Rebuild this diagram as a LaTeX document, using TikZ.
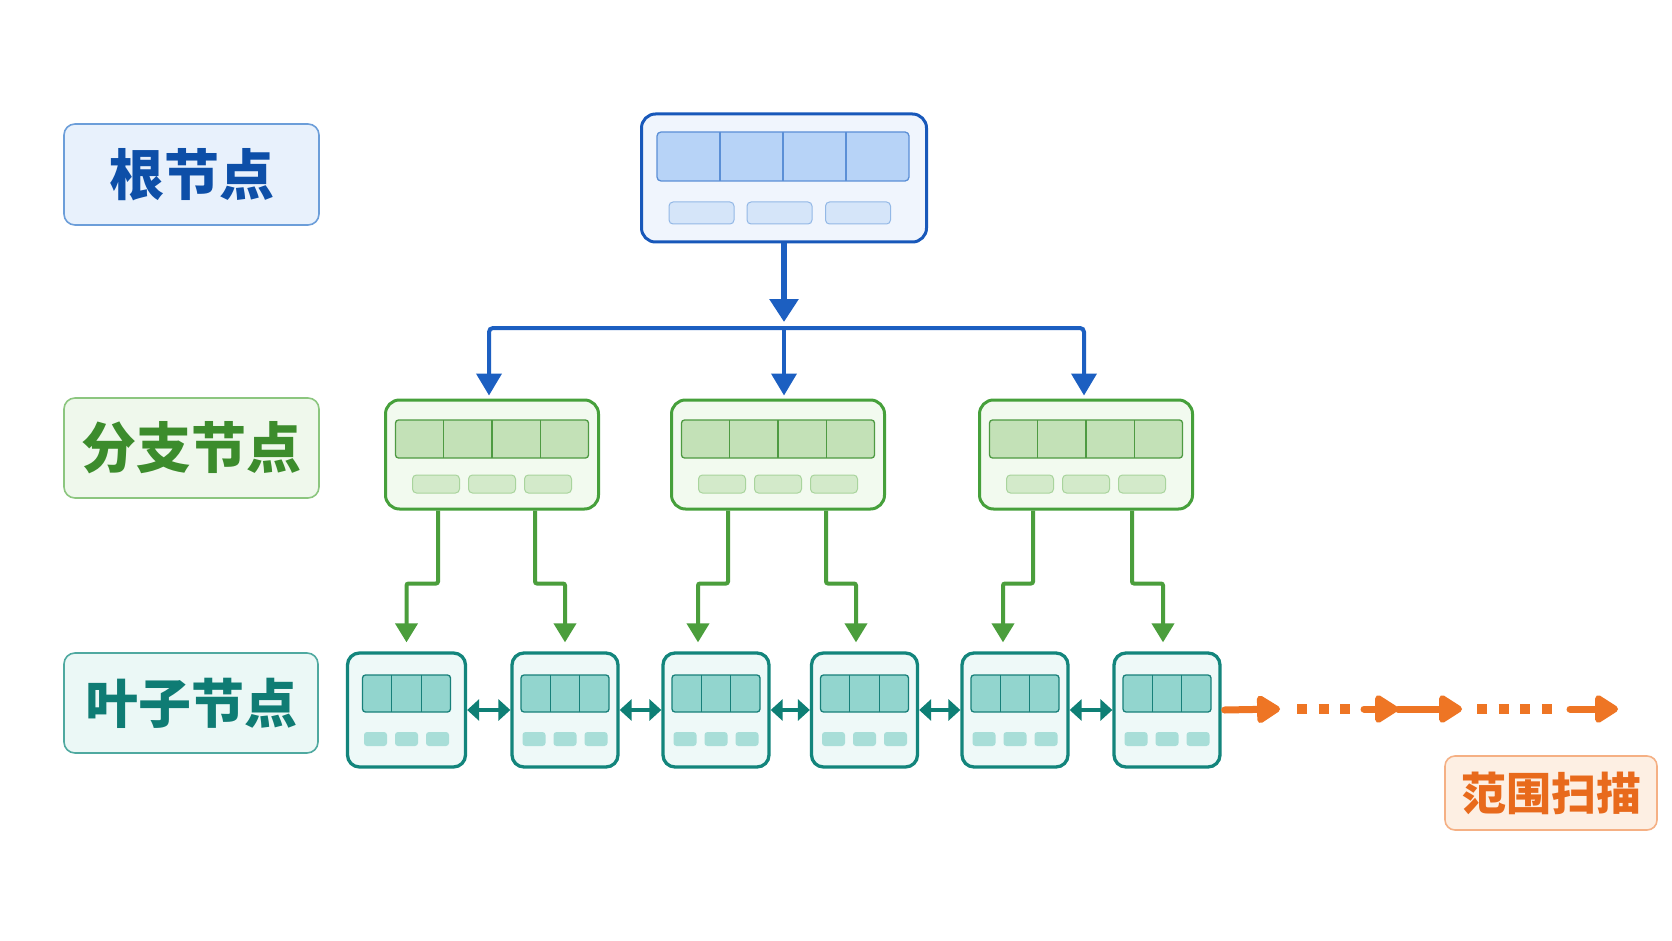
\documentclass[tikz,border=0pt]{standalone}
\usepackage{fontspec}
\newfontfamily\cjk{Noto Sans CJK SC}
\usetikzlibrary{arrows.meta,calc}
\definecolor{rootBorder}{HTML}{1858BA}
\definecolor{rootFill}{HTML}{F0F5FD}
\definecolor{rootBar}{HTML}{B7D3F7}
\definecolor{rootBarLine}{HTML}{5B8FD6}
\definecolor{rootSmall}{HTML}{D5E5F9}
\definecolor{rootSmallLine}{HTML}{93B8E6}
\definecolor{blueArrow}{HTML}{1C5FC1}
\definecolor{brBorder}{HTML}{46A03B}
\definecolor{brFill}{HTML}{F2FAEF}
\definecolor{brBar}{HTML}{C3E1B7}
\definecolor{brBarLine}{HTML}{4E9A42}
\definecolor{brSmall}{HTML}{D3EACA}
\definecolor{brSmallLine}{HTML}{A9D49D}
\definecolor{greenArrow}{HTML}{4B9E3C}
\definecolor{lfBorder}{HTML}{13857C}
\definecolor{lfFill}{HTML}{EEF9F8}
\definecolor{lfBar}{HTML}{92D5CE}
\definecolor{lfBarLine}{HTML}{18807A}
\definecolor{lfSmall}{HTML}{A8DED8}
\definecolor{tealArrow}{HTML}{0E7F75}
\definecolor{orangeArrow}{HTML}{EE7524}
\definecolor{labBlueFill}{HTML}{E8F1FC}
\definecolor{labBlueLine}{HTML}{6C9ED9}
\definecolor{labBlueText}{HTML}{0D4FA8}
\definecolor{labGreenFill}{HTML}{EFF8EC}
\definecolor{labGreenLine}{HTML}{8CC67F}
\definecolor{labGreenText}{HTML}{3C8C2C}
\definecolor{labTealFill}{HTML}{EBF8F6}
\definecolor{labTealLine}{HTML}{4FA9A0}
\definecolor{labTealText}{HTML}{0F7C74}
\definecolor{labOrFill}{HTML}{FDEFE3}
\definecolor{labOrLine}{HTML}{F5B084}
\definecolor{labOrText}{HTML}{E86A1C}
\tikzset{
  labelbox/.style={draw, line width=1.6pt, rounded corners=11pt, inner sep=0pt,
    font=\cjk\bfseries\fontsize{55}{60}\selectfont},
  rootbox/.style={draw=rootBorder, fill=rootFill, line width=3pt, rounded corners=14pt,
    minimum width=285pt, minimum height=128pt, inner sep=0pt},
  branchbox/.style={draw=brBorder, fill=brFill, line width=3pt, rounded corners=14pt,
    minimum width=213pt, minimum height=109pt, inner sep=0pt},
  leafbox/.style={draw=lfBorder, fill=lfFill, line width=3.3pt, rounded corners=12pt,
    minimum width=106pt, minimum height=114pt, inner sep=0pt},
  rootbar/.style={draw=rootBarLine, fill=rootBar, line width=1.3pt, rounded corners=4pt},
  rootsmall/.style={draw=rootSmallLine, fill=rootSmall, line width=1pt, rounded corners=4pt},
  brbar/.style={draw=brBarLine, fill=brBar, line width=1.3pt, rounded corners=3pt},
  brsmall/.style={draw=brSmallLine, fill=brSmall, line width=1pt, rounded corners=4pt},
  lfbar/.style={draw=lfBarLine, fill=lfBar, line width=1.3pt, rounded corners=3pt},
  lfsmall/.style={fill=lfSmall, rounded corners=3pt},
  rootarrow/.style={draw=blueArrow, line width=6pt, -{Triangle[length=23pt,width=28pt]}},
  busarrow/.style={draw=blueArrow, line width=4pt, rounded corners=4pt,
    -{Triangle[length=22pt,width=25pt]}},
  greenarrow/.style={draw=greenArrow, line width=4pt, rounded corners=2pt,
    -{Triangle[length=19pt,width=22pt]}, shorten >=9pt},
  tealarrow/.style={draw=tealArrow, line width=4.5pt,
    {Triangle[length=12pt,width=21pt]}-{Triangle[length=12pt,width=21pt]}},
  orangearrow/.style={draw=orangeArrow, line width=7pt, line cap=round,
    -{Triangle[length=26pt,width=31pt,round]}},
  orangedots/.style={draw=orangeArrow, line width=10pt, dash pattern=on 10pt off 11.6pt},
}
\begin{document}
\begin{tikzpicture}[x=1pt,y=-1pt]
\useasboundingbox (0,0) rectangle (1672,941);
\fill[white] (0,0) rectangle (1672,941);

% ---------- left labels ----------
\node[labelbox, fill=labBlueFill, draw=labBlueLine, text=labBlueText,
  minimum width=255pt, minimum height=101pt] (tRoot) at (191.5,174.5) {根节点};
\node[labelbox, fill=labGreenFill, draw=labGreenLine, text=labGreenText,
  minimum width=255pt, minimum height=100pt] (tBranch) at (191.5,448) {分支节点};
\node[labelbox, fill=labTealFill, draw=labTealLine, text=labTealText,
  font=\cjk\bfseries\fontsize{53}{58}\selectfont,
  minimum width=254pt, minimum height=100pt] (tLeaf) at (191,703) {叶子节点};

% ---------- root ----------
\node[rootbox] (R) at (784,178) {};
\draw[rootbar] (657,132) rectangle (909,181);
\foreach \xx in {720,783,846} \draw[rootBarLine, line width=1.3pt] (\xx,132) -- (\xx,181);
\foreach \xx in {701.5,779.5,858} \draw[rootsmall] (\xx-32.5,202) rectangle (\xx+32.5,224);

% ---------- branches ----------
\node[branchbox] (B1) at (492,454.5) {};
\node[branchbox] (B2) at (778,454.5) {};
\node[branchbox] (B3) at (1086,454.5) {};
\foreach \cx in {492,778,1086} {
  \draw[brbar] (\cx-96.5,420) rectangle (\cx+96.5,458);
  \foreach \k in {1,2,3} \draw[brBarLine, line width=1.3pt] (\cx-96.5+48.25*\k,420) -- (\cx-96.5+48.25*\k,458);
  \foreach \dx in {-56,0,56} \draw[brsmall] (\cx+\dx-23.5,475) rectangle (\cx+\dx+23.5,493);
}

% ---------- leaves ----------
\node[leafbox, minimum width=118pt] (L1) at (406.5,710) {};
\node[leafbox] (L2) at (565,710) {};
\node[leafbox] (L3) at (716,710) {};
\node[leafbox] (L4) at (864.5,710) {};
\node[leafbox] (L5) at (1015,710) {};
\node[leafbox] (L6) at (1167,710) {};
\foreach \cx in {406.5,565,716,864.5,1015,1167} {
  \draw[lfbar] (\cx-44,675) rectangle (\cx+44,712);
  \foreach \k in {1,2} \draw[lfBarLine, line width=1.3pt] (\cx-44+29.33*\k,675) -- (\cx-44+29.33*\k,712);
  \foreach \dx in {-31,0,31} \fill[lfsmall] (\cx+\dx-11.5,732) rectangle (\cx+\dx+11.5,746);
}

% ---------- root -> bus -> branches ----------
\coordinate (bus) at (784,328);
\draw[rootarrow, shorten >=6pt] (R.south) -- (bus);
\draw[busarrow, shorten >=3pt] (bus) -| ([xshift=-3pt]B1.north);
\draw[busarrow, shorten >=3pt] (bus) -- (bus |- B2.north);
\draw[busarrow, shorten >=3pt] (bus) -| ([xshift=-2pt]B3.north);

% ---------- branches -> leaves ----------
\draw[greenarrow] ([xshift=-54pt]B1.south) -- ++(0,73) -| (L1.north);
\draw[greenarrow] ([xshift=43pt]B1.south) -- ++(0,73) -| (L2.north);
\draw[greenarrow] ([xshift=-50pt]B2.south) -- ++(0,73) -| ([xshift=-18pt]L3.north);
\draw[greenarrow] ([xshift=48pt]B2.south) -- ++(0,73) -| ([xshift=-8.5pt]L4.north);
\draw[greenarrow] ([xshift=-53pt]B3.south) -- ++(0,73) -| ([xshift=-12pt]L5.north);
\draw[greenarrow] ([xshift=46pt]B3.south) -- ++(0,73) -| ([xshift=-4pt]L6.north);

% ---------- leaf links ----------
\draw[tealarrow] (L1.east) -- (L2.west);
\draw[tealarrow] (L2.east) -- (L3.west);
\draw[tealarrow] (L3.east) -- (L4.west);
\draw[tealarrow] (L4.east) -- (L5.west);
\draw[tealarrow] (L5.east) -- (L6.west);

% ---------- range scan ----------
\coordinate (o1) at (1280,709);
\coordinate (d1s) at (1297,709);
\coordinate (d1e) at (1352,709);
\coordinate (o2s) at (1364,709);
\coordinate (o2) at (1398,709);
\coordinate (o3) at (1462,709);
\coordinate (d2s) at (1477,709);
\coordinate (d2e) at (1554,709);
\coordinate (o4s) at (1570,709);
\coordinate (o4) at (1618,709);
\draw[orangearrow] ([xshift=3pt]L6.east) -- (o1);
\draw[orangedots] (d1s) -- (d1e);
\draw[orangearrow] (o2s) -- (o2);
\draw[orangearrow] (o2) -- (o3);
\draw[orangedots] (d2s) -- (d2e);
\draw[orangearrow] (o4s) -- (o4);

\node[labelbox, fill=labOrFill, draw=labOrLine, text=labOrText, rounded corners=10pt,
  font=\cjk\bfseries\fontsize{45}{50}\selectfont,
  minimum width=212pt, minimum height=74pt] (tScan) at (1551,793) {范围扫描};
\end{tikzpicture}
\end{document}
